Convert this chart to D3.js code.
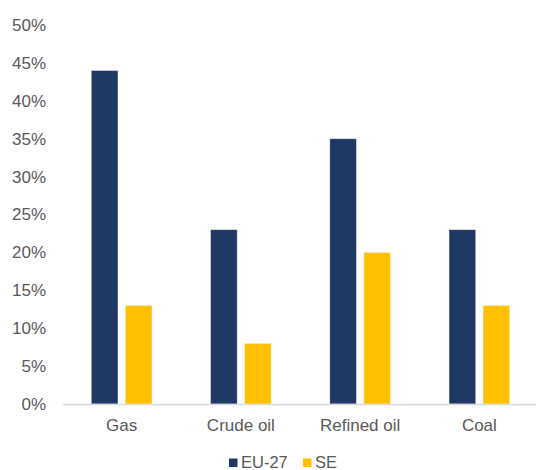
<!DOCTYPE html>
<html>
<head>
<meta charset="utf-8">
<script src="https://cdn.jsdelivr.net/npm/d3@7"></script>
<style>
  html, body { margin: 0; padding: 0; background: #fff; }
  svg { display: block; }
  text { font-family: "Liberation Sans", Arial, sans-serif; fill: #595959; }
</style>
</head>
<body>
<svg id="chart" width="536" height="470"></svg>
<script>
const categories = ["Gas", "Crude oil", "Refined oil", "Coal"];
const seriesNames = ["EU-27", "SE"];
const euValues = [44, 23, 35, 23];
const seValues = [13, 8, 20, 13];
const yTicks = [0, 5, 10, 15, 20, 25, 30, 35, 40, 45, 50];
const colors = ["#203864", "#FFC000"];

const seriesValues = [euValues, seValues];
const svg = d3.select("#chart");
const margin = { left: 62, top: 25, bottom: 66 };
const plotW = 477;
const H = 470;

const y = d3.scaleLinear().domain([0, 50]).range([H - margin.bottom, margin.top]);
const x0 = d3.scaleBand().domain(categories).range([margin.left, margin.left + plotW]).padding(0);
const groupW = x0.bandwidth() * 0.509;
const x1 = d3.scaleBand().domain(seriesNames).range([0, groupW]).paddingInner(0.215).paddingOuter(0);
const groupOffset = (x0.bandwidth() - groupW) / 2;

// y axis labels
const yAxis = d3.axisLeft(y).tickValues(yTicks).tickFormat(d => d + "%").tickSize(0).tickPadding(0);
const gy = svg.append("g").attr("transform", `translate(${46},0)`).call(yAxis);
gy.select(".domain").remove();
gy.selectAll("text").style("font-size", "17px").attr("fill", "#595959").attr("font-family", "Liberation Sans, Arial, sans-serif");

// bars
const groups = svg.append("g").selectAll("g").data(categories).join("g")
  .attr("transform", d => `translate(${x0(d) + groupOffset},0)`);
groups.selectAll("rect")
  .data((c, i) => seriesNames.map((s, j) => ({ s, v: seriesValues[j][i], j })))
  .join("rect")
  .attr("x", d => x1(d.s))
  .attr("y", d => y(d.v))
  .attr("width", x1.bandwidth())
  .attr("height", d => y(0) - y(d.v))
  .attr("fill", d => colors[d.j])
  .attr("stroke", "#ffffff")
  .attr("stroke-opacity", 0.5)
  .attr("stroke-width", 0.8);

// x axis
const xAxis = d3.axisBottom(x0).tickSize(0).tickPadding(0);
const gx = svg.append("g").attr("transform", `translate(0,${y(0)})`).call(xAxis);
gx.select(".domain").attr("stroke", "#D9D9D9").attr("stroke-width", 1.3);
gx.selectAll("text").attr("dy", null).attr("y", 27).style("font-size", "17px")
  .attr("fill", "#595959").attr("font-family", "Liberation Sans, Arial, sans-serif");

// legend
const legend = svg.append("g");
const legendItems = [{ name: seriesNames[0], x: 229 }, { name: seriesNames[1], x: 303 }];
legendItems.forEach((it, i) => {
  legend.append("rect").attr("x", it.x).attr("y", 458.5).attr("width", 8.5).attr("height", 8.5).attr("fill", colors[i]);
  legend.append("text").attr("x", it.x + 12).attr("y", 467.5).style("font-size", "16.5px").text(it.name);
});
</script>
</body>
</html>
